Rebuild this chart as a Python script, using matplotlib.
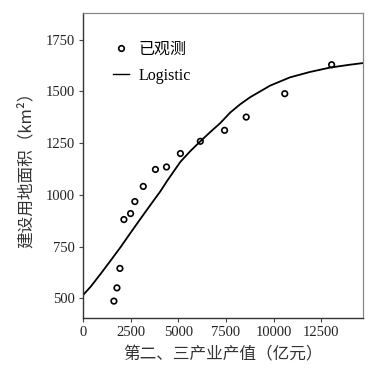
import matplotlib
matplotlib.use("Agg")
import matplotlib.pyplot as plt
from matplotlib.lines import Line2D

# observed points (second+third industry output, built-up area)
obs_x = [1620, 1780, 1935, 2145, 2495, 2720, 3160, 3800, 4380, 5110,
         6156, 7427, 8562, 10586, 13044]
obs_y = [487, 551, 645, 881, 910, 968, 1041, 1123, 1135, 1200,
         1259, 1312, 1376, 1489, 1629]

# logistic fitted curve
fit_x = [0, 403, 926, 1449, 1972, 2494, 3017, 3540, 4063, 4414, 5110,
         5633, 6156, 6679, 7202, 7725, 8248, 8771, 9817, 10863, 11909,
         12956, 14002, 14700]
fit_y = [516, 557, 619, 683, 748, 817, 885, 952, 1018, 1068, 1160,
         1212, 1259, 1304, 1347, 1398, 1438, 1472, 1528, 1568, 1594,
         1615, 1629, 1637]

x_ticks = [0, 2500, 5000, 7500, 10000, 12500]
y_ticks = [500, 750, 1000, 1250, 1500, 1750]

SERIF = ['Liberation Serif', 'Noto Sans CJK SC']
CJK = ['Noto Sans CJK SC', 'Liberation Serif']

fig = plt.figure(figsize=(3.88, 3.76), dpi=100)
ax = fig.add_axes([0.214, 0.154, 0.722, 0.811])

ax.plot(fit_x, fit_y, color='black', lw=1.3, zorder=2)
ax.scatter(obs_x, obs_y, s=16, facecolors='none', edgecolors='black',
           linewidths=1.2, zorder=3)

ax.set_xlim(0, 14700)
ax.set_ylim(405, 1878)
ax.set_xticks(x_ticks)
ax.set_yticks(y_ticks)
ax.set_xticklabels([str(v) for v in x_ticks], family=SERIF, fontsize=10.5, color='#222222')
ax.set_yticklabels([str(v) for v in y_ticks], family=SERIF, fontsize=10.5, color='#222222')
ax.tick_params(direction='out', length=3, width=0.8, color='#444444', pad=3)

for side in ['left', 'bottom']:
    ax.spines[side].set_color('#333333')
    ax.spines[side].set_linewidth(1.0)
for side in ['top', 'right']:
    ax.spines[side].set_color('#888888')
    ax.spines[side].set_linewidth(0.9)

ax.set_xlabel('第二、三产业产值（亿元）', family=CJK, fontsize=12,
              color='#333333', labelpad=5)
ax.set_ylabel('建设用地面积（km²）', family=CJK, fontsize=12,
              color='#333333', labelpad=8)

handles = [
    Line2D([], [], marker='o', ls='none', mfc='none', mec='black', mew=1.2, ms=4),
    Line2D([], [], color='black', lw=1.0),
]
leg = ax.legend(handles, ['已观测', 'Logistic'], loc='upper left',
                bbox_to_anchor=(0.055, 0.955), frameon=False, handlelength=1.0,
                handletextpad=0.6, labelspacing=0.65,
                prop={'family': SERIF, 'size': 11.5})

fig.savefig('out.png', dpi=100)
